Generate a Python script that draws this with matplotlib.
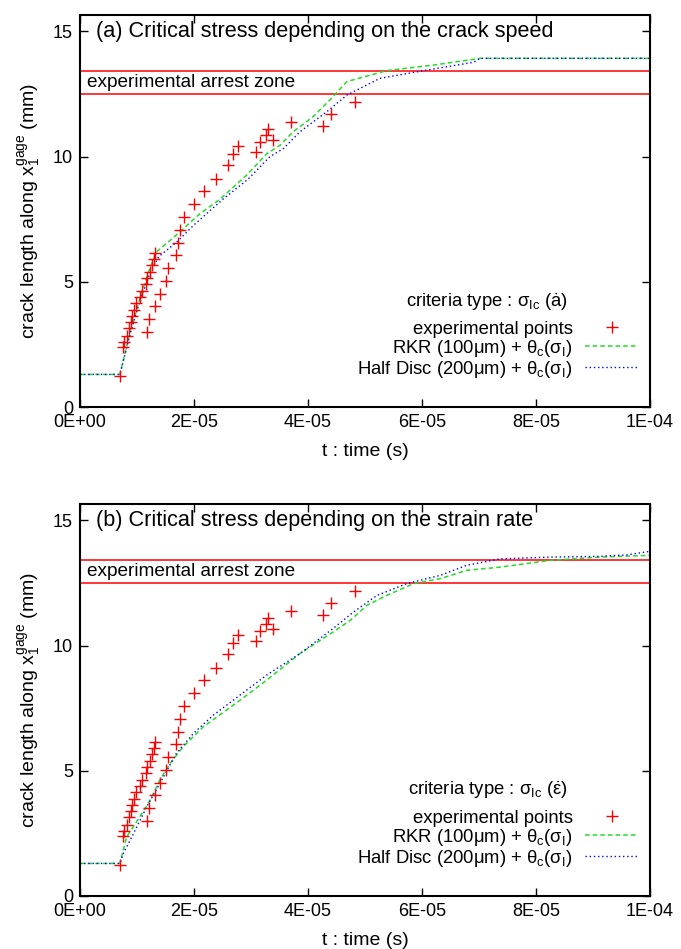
import matplotlib
matplotlib.use('Agg')
import matplotlib.pyplot as plt
import numpy as np

plt.rcParams['font.family'] = ['Liberation Sans', 'DejaVu Sans']
plt.rcParams['mathtext.fontset'] = 'custom'
plt.rcParams['mathtext.rm'] = 'Liberation Sans'
plt.rcParams['mathtext.it'] = 'Liberation Sans'
plt.rcParams['mathtext.bf'] = 'Liberation Sans:bold'
plt.rcParams['font.size'] = 13.3

# experimental points (time in microseconds, crack length in mm)
exp_t = [7.0, 7.5, 7.8, 8.2, 8.6, 8.9, 9.1, 9.5, 9.9, 10.5, 10.9, 11.6, 11.8,
         12.2, 12.6, 13.0, 13.2,
         11.7, 12.05, 13.2, 14.0, 15.1, 15.5, 16.8, 17.2, 17.5, 18.3, 20.05,
         21.75, 23.8, 25.9, 26.8, 27.7, 30.9, 31.5, 32.6, 33.0, 33.9, 37.0,
         42.6, 44.0, 48.2]
exp_a = [1.25, 2.39, 2.61, 2.85, 3.15, 3.39, 3.63, 3.88, 4.15, 4.41, 4.65, 4.92,
         5.15, 5.39, 5.65, 5.92, 6.15,
         2.99, 3.52, 4.03, 4.52, 5.04, 5.56, 6.05, 6.56, 7.08, 7.59, 8.11,
         8.61, 9.12, 9.65, 10.11, 10.41, 10.19, 10.59, 10.85, 11.09, 10.67, 11.39,
         11.2, 11.71, 12.19]

# (a) critical stress depending on the crack speed
rkr_a_t = [0, 7.0, 8.8, 10.5, 12.0, 13.4, 15.8, 17.8, 21.05, 24.6, 29.2, 32.8,
           35.1, 37.4, 40.9, 44.4, 46.8, 53.8, 62.0, 70.2, 100]
rkr_a_y = [1.3, 1.3, 3.0, 4.32, 5.39, 6.19, 6.65, 7.05, 7.72, 8.3, 9.25, 10.12,
           10.45, 10.99, 11.59, 12.39, 12.99, 13.43, 13.65, 13.92, 13.92]
hd_a_t = [0, 7.0, 8.9, 10.6, 12.2, 13.8, 17.0, 19.9, 25.1, 29.5, 33.3, 35.7,
          38.6, 43.3, 46.8, 52.6, 60.8, 69.0, 70.2, 100]
hd_a_y = [1.3, 1.3, 3.0, 4.3, 5.3, 6.0, 6.59, 7.25, 8.3, 9.1, 9.99, 10.32,
          10.99, 11.79, 12.45, 13.12, 13.45, 13.76, 13.92, 13.92]

# (b) critical stress depending on the strain rate
rkr_b_t = [0, 7.0, 8.2, 10.5, 12.3, 14.0, 15.8, 18.1, 21.6, 28.1, 32.75, 38.6,
           44.4, 47.4, 50.3, 53.8, 58.5, 63.2, 67.8, 73.7, 82.5, 91.2, 100]
rkr_b_y = [1.3, 1.3, 2.37, 3.16, 3.83, 4.63, 5.29, 5.96, 6.75, 7.82, 8.62, 9.68,
           10.54, 11.0, 11.6, 12.0, 12.47, 12.67, 13.0, 13.13, 13.4, 13.53, 13.6]
hd_b_t = [0, 7.0, 7.6, 9.4, 11.7, 14.0, 16.9, 19.9, 23.4, 26.9, 32.75, 38.6,
          44.4, 48.0, 52.1, 57.3, 63.2, 67.8, 73.7, 82.5, 91.2, 96.0, 100]
hd_b_y = [1.3, 1.3, 1.7, 2.5, 3.56, 4.49, 5.69, 6.49, 7.22, 7.82, 8.82, 9.68,
          10.68, 11.34, 12.0, 12.47, 12.8, 13.2, 13.46, 13.53, 13.56, 13.62, 13.76]

arrest_zone = [12.5, 13.4]
x_ticks = [0, 2e-5, 4e-5, 6e-5, 8e-5, 1e-4]
x_tick_labels = ['0E+00', '2E-05', '4E-05', '6E-05', '8E-05', '1E-04']
y_ticks = [0, 5, 10, 15]

rkr_label = r'RKR (100μm) + $\theta_{\rm c}(\sigma_{\rm I})$'
hd_label = r'Half Disc (200μm) + $\theta_{\rm c}(\sigma_{\rm I})$'


def draw_panel(ax, title, criteria, rkr_t, rkr_y, hd_t, hd_y):
    us = 1e-6
    for level in arrest_zone:
        ax.axhline(level, color='#ff0000', lw=1.1, zorder=1)
    ax.text(0.012, np.mean(arrest_zone), 'experimental arrest zone',
            transform=ax.get_yaxis_transform(), ha='left', va='center',
            fontsize=13.7)
    ax.text(0.028, 15, title, transform=ax.get_yaxis_transform(),
            ha='left', va='center', fontsize=15.6)

    ax.plot(np.array(exp_t) * us, exp_a, '+', color='#ff0000', ms=8, mew=1.0,
            label='experimental points', zorder=3)
    ax.plot(np.array(rkr_t) * us, rkr_y, color='#22dd22', lw=1.1,
            ls=(0, (3, 2)), label=rkr_label)
    ax.plot(np.array(hd_t) * us, hd_y, color='#0000ff', lw=1.0,
            ls=(0, (1, 2)), label=hd_label)

    ax.legend(loc='lower right', bbox_to_anchor=(0.979, 0.07),
              markerfirst=False, frameon=False, handlelength=2.87,
              handletextpad=0.65, labelspacing=0.0, borderpad=0,
              borderaxespad=0, fontsize=13.3)
    ax.text(0.856, 0.269, criteria, transform=ax.transAxes,
            ha='right', va='center', fontsize=13.3)

    ax.set_xlim(0, 1e-4)
    ax.set_ylim(0, 15.65)
    ax.set_xticks(x_ticks, x_tick_labels)
    ax.set_yticks(y_ticks)
    ax.tick_params(direction='in', length=6, width=1, top=True, right=True,
                   pad=5, labelsize=13)
    for s in ax.spines.values():
        s.set_linewidth(1.5)
    ax.set_xlabel('t : time (s)', labelpad=9, fontsize=14)
    ax.set_ylabel(r'crack length along x$_1^{\rm gage}$ (mm)', labelpad=7,
                  fontsize=14)


fig = plt.figure(figsize=(6.81, 9.49), dpi=100)
ax1 = fig.add_axes([80 / 681, 1 - 407 / 949, 570 / 681, 392 / 949])
ax2 = fig.add_axes([80 / 681, 1 - 896 / 949, 570 / 681, 392 / 949])

draw_panel(ax1, '(a) Critical stress depending on the crack speed',
           'criteria type : σ$_{\\rm Ic}$ (ȧ)',
           rkr_a_t, rkr_a_y, hd_a_t, hd_a_y)
draw_panel(ax2, '(b) Critical stress depending on the strain rate',
           'criteria type : σ$_{\\rm Ic}$ ($\\dot{ε}$)',
           rkr_b_t, rkr_b_y, hd_b_t, hd_b_y)

fig.savefig('out.png', dpi=100)
plt.close(fig)
